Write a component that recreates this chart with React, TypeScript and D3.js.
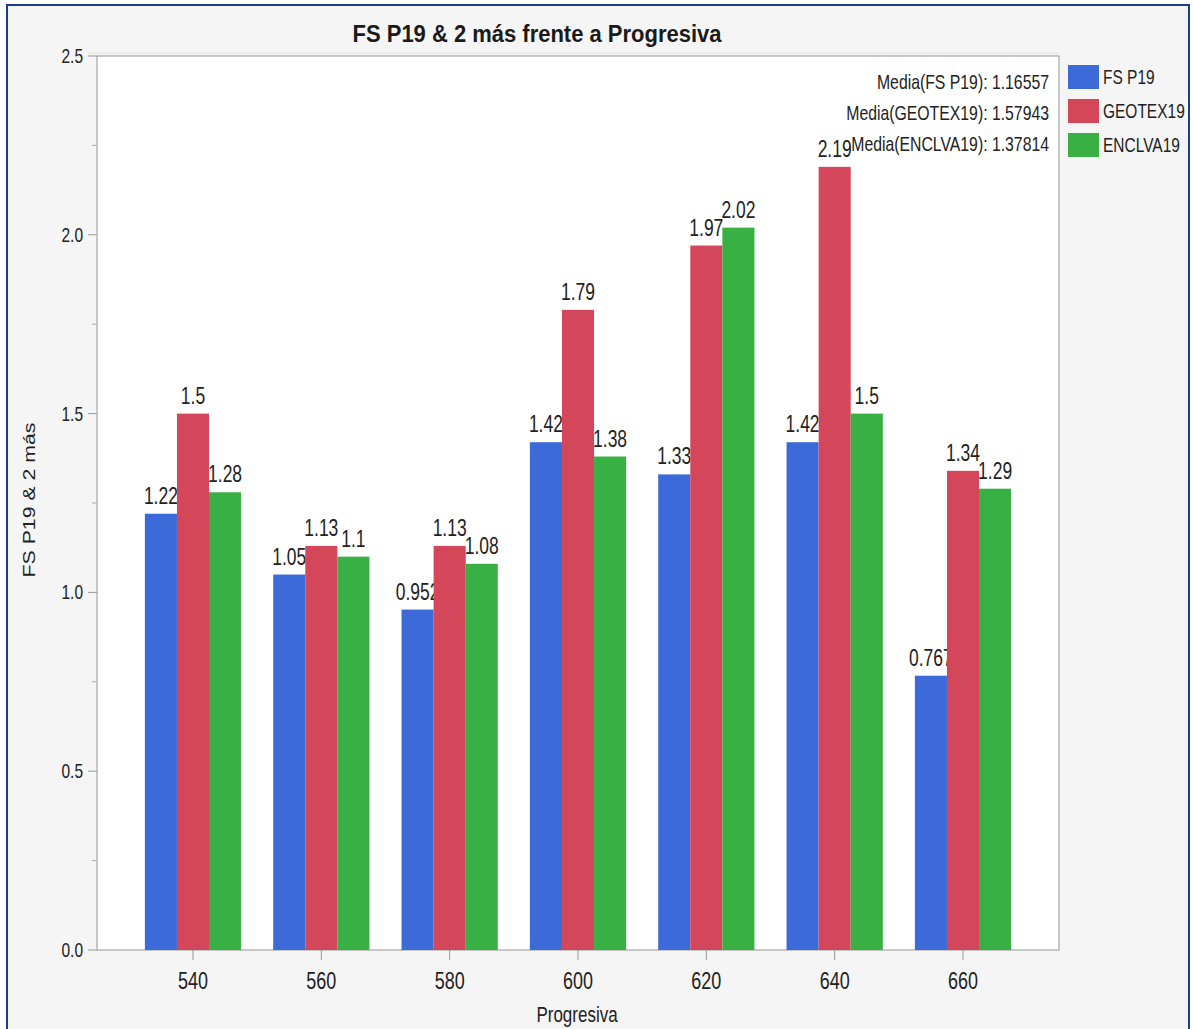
import React from "react";
import * as d3 from "d3";

const categories = ["540", "560", "580", "600", "620", "640", "660"];
const seriesNames = ["FS P19", "GEOTEX19", "ENCLVA19"];
const fsP19 = [1.22, 1.05, 0.952, 1.42, 1.33, 1.42, 0.767];
const geotex19 = [1.5, 1.13, 1.13, 1.79, 1.97, 2.19, 1.34];
const enclva19 = [1.28, 1.1, 1.08, 1.38, 2.02, 1.5, 1.29];
const seriesValues = [fsP19, geotex19, enclva19];
const seriesColors = ["#3d6ad9", "#d4465a", "#38b043"];
const yTicks = [0, 0.5, 1.0, 1.5, 2.0, 2.5];
const yMinorTicks = [0.25, 0.75, 1.25, 1.75, 2.25];
const meanLabels = [
  "Media(FS P19): 1.16557",
  "Media(GEOTEX19): 1.57943",
  "Media(ENCLVA19): 1.37814",
];
const title = "FS P19 & 2 más frente a Progresiva";
const xTitle = "Progresiva";
const yTitle = "FS P19 & 2 más";

const W = 1193;
const H = 1029;
const plot = { left: 97, right: 1059, top: 56, bottom: 950 };
const FONT = "'Liberation Sans', Arial, sans-serif";
const SY = 1.33;

function T({ x, y, text, size, anchor = "middle", weight = "normal", sy = SY, fill = "#222", rotate = 0, baseline = "auto" }: any) {
  const tr = rotate
    ? `translate(${x},${y}) rotate(${rotate}) scale(${sy},1)`
    : `translate(${x},${y}) scale(1,${sy})`;
  return (
    <text
      transform={tr}
      textAnchor={anchor}
      fontSize={size}
      fontWeight={weight}
      fontFamily={FONT}
      fill={fill}
      dominantBaseline={baseline}
    >
      {text}
    </text>
  );
}

export default function App() {
  const x0 = d3
    .scaleBand<string>()
    .domain(categories)
    .range([plot.left, plot.right])
    .paddingInner(0.25)
    .paddingOuter(0.373);
  const x1 = d3
    .scaleBand<string>()
    .domain(seriesNames)
    .range([0, x0.bandwidth()])
    .padding(0);
  const y = d3.scaleLinear().domain([0, 2.5]).range([plot.bottom, plot.top]);

  return (
    <svg
      width={W}
      height={H}
      style={{ position: "absolute", left: 0, top: 0, background: "#fff" }}
    >
      <rect x={7} y={5} width={1182} height={1040} fill="#f5f5f5" stroke="#1c3d8f" strokeWidth={2} />
      {/* title */}
      <T x={537} y={42} text={title} size={22} weight="bold" sy={1.08} fill="#1a1a1a" />
      {/* plot area */}
      <line x1={88} x2={plot.right} y1={53} y2={53} stroke="#e2e2e2" strokeWidth={1} />
      <rect
        x={plot.left}
        y={plot.top}
        width={plot.right - plot.left}
        height={plot.bottom - plot.top}
        fill="#fff"
        stroke="#a6a6a6"
        strokeWidth={1.2}
      />
      {/* bars and labels */}
      {seriesNames.map((s, si) => (
        <g key={s}>
          {categories.map((c, ci) => {
            const v = seriesValues[si][ci];
            const bx = (x0(c) as number) + (x1(s) as number);
            const bw = x1.bandwidth();
            return (
              <g key={c}>
                <rect x={bx} y={y(v)} width={bw} height={y(0) - y(v)} fill={seriesColors[si]} />
                <T x={bx + bw / 2} y={y(v) - 10} text={String(v)} size={17.5} />
              </g>
            );
          })}
        </g>
      ))}
      {/* y axis ticks */}
      {yTicks.map((t) => (
        <g key={"y" + t}>
          <line x1={plot.left - 9} x2={plot.left} y1={y(t)} y2={y(t)} stroke="#999" />
          <T x={83} y={y(t) + 7} text={t.toFixed(1)} size={15.5} anchor="end" />
        </g>
      ))}
      {yMinorTicks.map((t) => (
        <line key={"m" + t} x1={plot.left - 5} x2={plot.left} y1={y(t)} y2={y(t)} stroke="#aaa" />
      ))}
      {/* x axis ticks */}
      {categories.map((c) => {
        const cx = (x0(c) as number) + x0.bandwidth() / 2;
        return (
          <g key={"x" + c}>
            <line x1={cx} x2={cx} y1={plot.bottom} y2={plot.bottom + 10} stroke="#999" />
            <T x={cx} y={989} text={c} size={18} />
          </g>
        );
      })}
      {/* axis titles */}
      <T x={577} y={1022} text={xTitle} size={17} />
      <T x={35} y={500} text={yTitle} size={16} rotate={-90} sy={1.33} />
      {/* mean labels */}
      {meanLabels.map((m, i) => (
        <T key={m} x={1049} y={89 + i * 31} text={m} size={15.8} anchor="end" />
      ))}
      {/* legend */}
      {seriesNames.map((s, i) => (
        <g key={"lg" + s}>
          <rect x={1068} y={65 + i * 34} width={31} height={24} fill={seriesColors[i]} />
          <T x={1103} y={84 + i * 34} text={s} size={15.5} anchor="start" />
        </g>
      ))}
    </svg>
  );
}
